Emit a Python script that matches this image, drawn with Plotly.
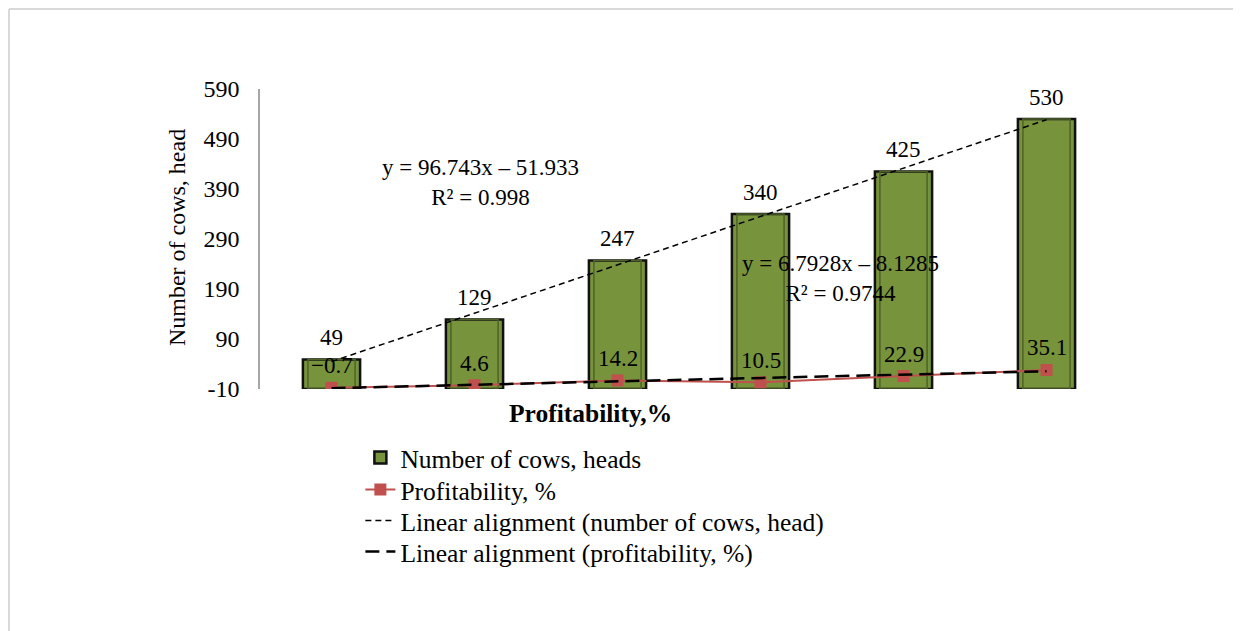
import plotly.graph_objects as go

categories = [1, 2, 3, 4, 5, 6]
cows = [49, 129, 247, 340, 425, 530]
profitability = [-0.7, 4.6, 14.2, 10.5, 22.9, 35.1]
y_ticks = [-10, 90, 190, 290, 390, 490, 590]

# trendline coefficients as printed on the chart
cows_trend = {"slope": 96.743, "intercept": -51.933, "r2": 0.998}
prof_trend = {"slope": 6.7928, "intercept": -8.1285, "r2": 0.9744}

FONT = "Liberation Serif, Times New Roman, serif"
axis_min = y_ticks[0]

fig = go.Figure()

fig.add_trace(go.Bar(
    x=categories, y=[v - axis_min for v in cows], base=axis_min,
    width=0.4, name="Number of cows, heads", legend="legend",
    marker=dict(color="#77933C", line=dict(color="#111111", width=2.5)),
))
# inner bevel edge
fig.add_trace(go.Bar(
    x=categories, y=[v - axis_min for v in cows], base=axis_min,
    width=0.33, showlegend=False, hoverinfo="skip",
    marker=dict(color="rgba(0,0,0,0)", line=dict(color="#4F6228", width=1.5)),
))

ends = [categories[0], categories[-1]]
fig.add_trace(go.Scatter(
    x=categories, y=profitability, mode="lines+markers", yaxis="y2",
    name="Profitability, %", legend="legend2",
    line=dict(color="#C0504D", width=2),
    marker=dict(symbol="square", size=12, color="#C0504D"),
))
fig.add_trace(go.Scatter(
    x=ends, y=[cows_trend["slope"] * c + cows_trend["intercept"] for c in ends],
    mode="lines", name="Linear alignment (number of cows, head)", legend="legend3",
    line=dict(color="black", width=1.5, dash="6px,4px"),
))
fig.add_trace(go.Scatter(
    x=ends, y=[prof_trend["slope"] * c + prof_trend["intercept"] for c in ends],
    mode="lines", yaxis="y2", name="Linear alignment (profitability, %)", legend="legend4",
    line=dict(color="black", width=2.5, dash="14px,7px"),
))

for c, v in zip(categories, cows):
    fig.add_annotation(x=c, y=v, text=str(v), showarrow=False, yshift=22,
                       font=dict(family=FONT, size=23, color="black"))
for c, v in zip(categories, profitability):
    fig.add_annotation(x=c, y=v, yref="y2", text=f"{v:g}".replace("-", "\u2212"),
                       showarrow=False, yshift=22,
                       font=dict(family=FONT, size=23, color="black"))

fig.add_annotation(x=2.045, y=403, xref="x", yref="y", showarrow=False,
                   text=f"y = {cows_trend['slope']}x \u2013 {abs(cows_trend['intercept'])}<br>R\u00b2 = {cows_trend['r2']}",
                   font=dict(family=FONT, size=23, color="black"))
fig.add_annotation(x=4.56, y=212, xref="x", yref="y", showarrow=False,
                   text=f"y = {prof_trend['slope']}x \u2013 {abs(prof_trend['intercept'])}<br>R\u00b2 = {prof_trend['r2']}",
                   font=dict(family=FONT, size=23, color="black"))

# axis titles
fig.add_annotation(x=(590 - 260) / 858, y=(389 - 413) / 300, xref="paper", yref="paper",
                   xanchor="center", yanchor="middle",
                   showarrow=False, text="<b>Profitability,%</b>",
                   font=dict(family=FONT, size=25.5, color="black"))
fig.add_annotation(x=(177 - 260) / 858, y=0.503, xref="paper", yref="paper",
                   xanchor="center", yanchor="middle",
                   showarrow=False, text="Number of cows, head", textangle=-90,
                   font=dict(family=FONT, size=24, color="black"))

# outer border (top and left)
L, T, B, R = (9 - 260) / 858, (389 - 9) / 300, (389 - 640) / 300, (1250 - 260) / 858
fig.add_shape(type="line", xref="paper", yref="paper", x0=L, x1=R, y0=T, y1=T,
              line=dict(color="#D9D9D9", width=2))
fig.add_shape(type="line", xref="paper", yref="paper", x0=L, x1=L, y0=T, y1=B,
              line=dict(color="#D9D9D9", width=2))

legend_style = dict(x=0.117, xanchor="left", yanchor="middle",
                    font=dict(family=FONT, size=25.5, color="black"),
                    bgcolor="rgba(0,0,0,0)", borderwidth=0)
legend_rows = [458, 490, 521, 552]

fig.update_layout(
    width=1233, height=623,
    margin=dict(l=252, r=123, t=81, b=242),
    paper_bgcolor="white", plot_bgcolor="white",
    barmode="overlay",
    font=dict(family=FONT, size=23, color="black"),
    xaxis=dict(range=[0.5, 6.5], showticklabels=False, showline=False,
               showgrid=False, zeroline=False, ticks=""),
    yaxis=dict(range=[y_ticks[0], y_ticks[-1]], tickvals=y_ticks,
               ticktext=[str(t) for t in y_ticks],
               showgrid=False, zeroline=False, showline=True,
               linecolor="#A6A6A6", linewidth=1.5, ticks="",
               ticklabelstandoff=14, tickfont=dict(family=FONT, size=24)),
    yaxis2=dict(range=[-3, 597], overlaying="y", visible=False),
    showlegend=True,
    legend=dict(y=(389 - legend_rows[0]) / 300, **legend_style),
    legend2=dict(y=(389 - legend_rows[1]) / 300, **legend_style),
    legend3=dict(y=(389 - legend_rows[2]) / 300, **legend_style),
    legend4=dict(y=(389 - legend_rows[3]) / 300, **legend_style),
)

fig.write_html("out.html")
